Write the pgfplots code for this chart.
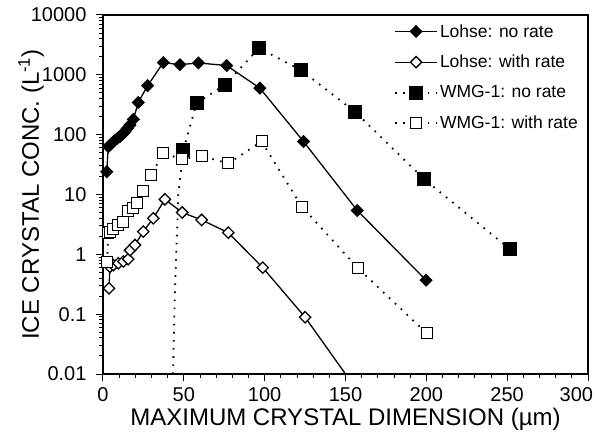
\documentclass[border=0pt]{standalone}
\usepackage{pgfplots}
\pgfplotsset{compat=1.18}
\usepackage{fontspec}
\setmainfont{Liberation Sans}

\begin{document}
\begin{tikzpicture}
\begin{axis}[
  at={(0pt,0pt)}, anchor=south west,
  scale only axis, width=485pt, height=359pt,
  xmin=0, xmax=300, ymode=log, ymin=0.01, ymax=10000,
  xtick={0,50,100,150,200,250,300}, minor x tick num=4,
  xticklabels={0,50,100,150,200,250,{\hbox to 0pt{\hss 300\hspace{-5pt}}}},
  ytick={0.01,0.1,1,10,100,1000,10000},
  yticklabels={0.01,0.1,1,10,100,1000,10000},
  minor ytick={0.02,0.03,0.04,0.05,0.06,0.07,0.08,0.09,0.2,0.3,0.4,0.5,0.6,0.7,0.8,0.9,2,3,4,5,6,7,8,9,20,30,40,50,60,70,80,90,200,300,400,500,600,700,800,900,2000,3000,4000,5000,6000,7000,8000,9000},
  xtick pos=bottom, ytick pos=left,
  tick align=outside,
  major tick length=7pt, minor tick length=4pt,
  every tick/.style={black, line width=1pt},
  axis line style={line width=1.3pt},
  ticklabel style={font=\fontsize{20}{20}\selectfont},
  xticklabel style={yshift=-3pt},
  yticklabel style={xshift=-6pt},
  label style={font=\fontsize{24}{24}\selectfont},
  xlabel={MAXIMUM CRYSTAL DIMENSION (µm)},
  ylabel={ICE CRYSTAL CONC. (L\textsuperscript{-1})},
  xlabel style={at={(axis description cs:0.5,-0.127)}, anchor=center},
  ylabel style={at={(axis description cs:-0.1485,0.5)}, anchor=center},
  legend style={at={(axis description cs:0.6,0.98)}, anchor=north west,
    draw=none, fill=none, font=\fontsize{17.5}{17.5}\selectfont,
    row sep=12.5pt, inner sep=0pt, cells={anchor=west}},
  legend cell align=left,
  legend image code/.code={\draw[mark repeat=2,mark phase=2,#1] plot coordinates {(0pt,0pt) (21pt,0pt) (42pt,0pt)};},
]
% Lohse: no rate
\addplot[black, line width=1.3pt, mark=square*, mark size=4pt, mark options={rotate=45, solid, fill=black}]
coordinates {(2.3,24)(3.3,63)(5,70)(7.4,81)(9,87)(10.5,93)(12,102)(13.6,112)(15,127)(16.7,145)(18.8,180)(21.8,345)(27.6,660)(37.3,1600)(47.6,1480)(59,1580)(76.5,1430)(97,600)(124,77)(157.3,5.4)(199.8,0.37)};
\addlegendentry{Lohse: no rate}
% Lohse: with rate
\addplot[black, line width=1.3pt, mark=square*, mark size=4pt, mark options={rotate=45, solid, fill=white}]
coordinates {(3.7,0.27)(4.3,0.62)(6.4,0.66)(9.5,0.71)(12.6,0.76)(15.6,0.83)(16.7,1.17)(19.8,1.43)(24.9,2.4)(31.1,4.0)(38.3,8.3)(49,5.0)(61,3.76)(77.5,2.3)(98.8,0.60)(125,0.089)};
\addlegendentry{Lohse: with rate}
% WMG-1: no rate
\addplot[black, line width=1.8pt, dash pattern=on 1.6pt off 6.5pt, mark=square*, mark size=6.5pt, mark options={solid, fill=black, line width=0.8pt}]
coordinates {(49.7,56)(57.9,336)(75.4,680)(96.5,2800)(122.4,1200)(155.8,243)(198.7,18)(251.7,1.22)};
\addlegendentry{WMG-1: no rate}
% WMG-1: with rate
\addplot[black, line width=1.8pt, dash pattern=on 1.6pt off 6.5pt, mark=square*, mark size=5.5pt, mark options={solid, fill=white, line width=1pt}]
coordinates {(2.5,0.75)(3.3,2.25)(4.3,2.4)(6.4,2.7)(9.5,3.1)(12.6,3.5)(15.7,5.2)(18.7,5.9)(20.8,7.1)(24.9,11.3)(29.7,21)(37.3,49)(48.7,39)(61,44)(77.5,33)(98.1,77)(122.9,6.3)(157.9,0.58)(200.2,0.048)};
\addlegendentry{WMG-1: with rate}
% unmarked segments
\addplot[forget plot, black, line width=1.3pt] coordinates {(125,0.089)(150,0.01)};
\addplot[forget plot, black, line width=1.8pt, dash pattern=on 1.6pt off 6.5pt] coordinates {(43.3,0.01)(44.5,0.25)(46.6,10)(49.7,56)};
\end{axis}
\pgfresetboundingbox
\path (-103pt,-62pt) rectangle (493pt,374pt);
\end{tikzpicture}
\end{document}
